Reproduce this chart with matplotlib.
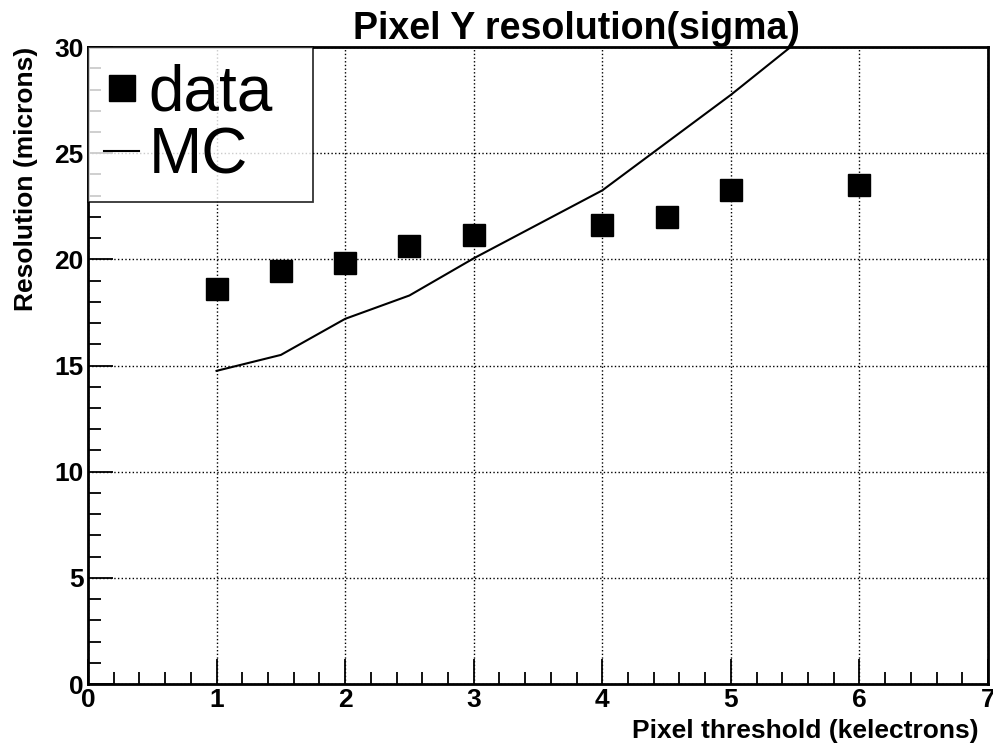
import numpy as np
import matplotlib.pyplot as plt
from matplotlib.ticker import MultipleLocator

plt.rcParams['font.family'] = ['Liberation Sans', 'DejaVu Sans']

# datos
thr_data = [1, 1.5, 2, 2.5, 3, 4, 4.5, 5, 6]
res_data = [18.6, 19.45, 19.85, 20.65, 21.15, 21.6, 22.0, 23.27, 23.48]

thr_mc = [1, 1.5, 2, 2.5, 3, 4, 4.5, 5, 6]
res_mc = [14.75, 15.5, 17.2, 18.3, 20.05, 23.25, 25.5, 27.75, 32.6]

fig = plt.figure(figsize=(9.93, 7.47), dpi=100)
ax = fig.add_axes([0.0886, 0.0843, 0.9064, 0.8527])

ax.plot(thr_mc, res_mc, color='black', lw=1.5, label='MC')
ax.plot(thr_data, res_data, ls='none', marker='s', ms=16, color='black', label='data')

ax.set_xlim(0, 7)
ax.set_ylim(0, 30)
ax.xaxis.set_major_locator(MultipleLocator(1))
ax.xaxis.set_minor_locator(MultipleLocator(0.2))
ax.yaxis.set_major_locator(MultipleLocator(5))
ax.yaxis.set_minor_locator(MultipleLocator(1))
ax.tick_params(which='both', direction='in', top=False, right=False, width=1.3)
ax.tick_params(which='major', length=18, labelsize=19, pad=3)
ax.tick_params(which='minor', length=9)
for lab in ax.get_xticklabels() + ax.get_yticklabels():
    lab.set_fontweight('bold')
ax.grid(True, which='major', ls=':', color='black', lw=1.0)
for s in ax.spines.values():
    s.set_linewidth(2)

ax.set_title('Pixel Y resolution(sigma)', fontsize=27, fontweight='bold', pad=0, x=0.543)
ax.set_ylabel('Resolution (microns)', fontsize=19, fontweight='bold', labelpad=12, loc='top')
ax.set_xlabel('Pixel threshold (kelectrons)', fontsize=19, fontweight='bold', loc='right', labelpad=0)
ax.xaxis.set_label_coords(0.99, -0.055, transform=ax.transAxes)

# leyenda tipo ROOT, caja en la esquina
h, l = ax.get_legend_handles_labels()
leg = ax.legend(h[::-1], l[::-1], loc='upper left', bbox_to_anchor=(0, 0, 0.25, 1), mode='expand',
                fontsize=46, frameon=True, fancybox=False,
                edgecolor='black', borderaxespad=0, handlelength=0.55, handletextpad=0.15,
                borderpad=0.25, labelspacing=0.05, markerscale=1.2)
leg.get_frame().set_linewidth(1.3)

fig.savefig('out.png', dpi=100)
